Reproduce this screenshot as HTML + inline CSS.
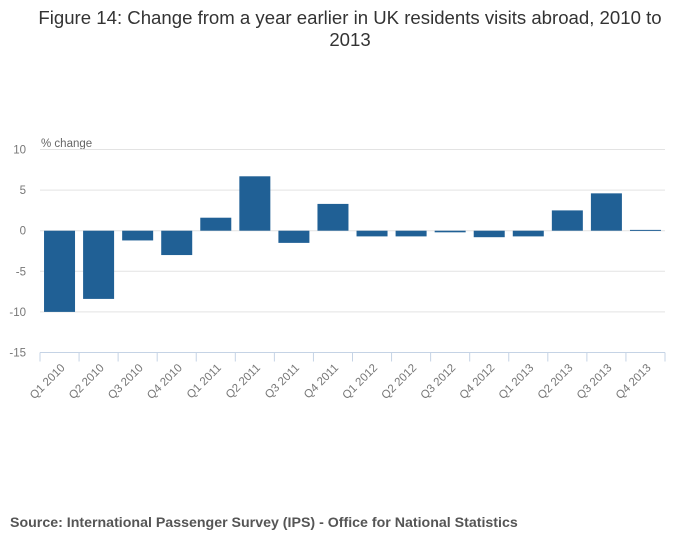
<!DOCTYPE html>
<html><head><meta charset="utf-8"><style>
body{margin:0;background:#fff;width:700px;height:549px;overflow:hidden;font-family:"Liberation Sans",sans-serif}
</style></head><body>
<svg width="700" height="549">
<text x="350" y="24" text-anchor="middle" font-size="18.6" fill="#333">Figure 14: Change from a year earlier in UK residents visits abroad, 2010 to</text>
<text x="350" y="46" text-anchor="middle" font-size="18.6" fill="#333">2013</text>
<text x="41" y="147" font-size="11.5" fill="#666">% change</text>
<g id="grid"></g><g id="bars"></g><g id="xaxis"></g>
<text x="10" y="527" font-size="14.2" font-weight="bold" fill="#555">Source: International Passenger Survey (IPS) - Office for National Statistics</text>
</svg>
<script>
const categories=["Q1 2010","Q2 2010","Q3 2010","Q4 2010","Q1 2011","Q2 2011","Q3 2011","Q4 2011","Q1 2012","Q2 2012","Q3 2012","Q4 2012","Q1 2013","Q2 2013","Q3 2013","Q4 2013"];
const values=[-10,-8.4,-1.2,-3.0,1.6,6.7,-1.5,3.3,-0.7,-0.7,-0.2,-0.8,-0.7,2.5,4.6,0.1];
const yTicks=[10,5,0,-5,-10,-15];
const NS="http://www.w3.org/2000/svg";
const x0=40,x1=665,yTop=149.5,yBot=352.5,vMax=10,vMin=-15;
const y=v=>yTop+(vMax-v)/(vMax-vMin)*(yBot-yTop);
const bw=(x1-x0)/categories.length;
const xs=i=>x0+i*bw;
function mk(t,a,p){const e=document.createElementNS(NS,t);for(const k in a)e.setAttribute(k,a[k]);p.appendChild(e);return e;}
const grid=document.getElementById('grid'),bars=document.getElementById('bars'),xa=document.getElementById('xaxis');
yTicks.forEach(v=>{
 if(v!==vMin){const l=mk('line',{x1:x0,x2:x1,y1:y(v),y2:y(v),stroke:'#e3e3e3','stroke-width':1},grid);
 
 }
 const t=mk('text',{x:26,y:y(v)+4,'text-anchor':'end','font-size':11.5,fill:'#777'},grid);t.textContent=v;
 
 
});
const ax=mk('line',{x1:x0,x2:x1,y1:yBot,y2:yBot,stroke:'#c5d3e5','stroke-width':1},xa);


for(let i=0;i<=categories.length;i++){
 const tk=mk('line',{x1:xs(i),x2:xs(i),y1:yBot,y2:yBot+9,stroke:'#c5d3e5'},xa);
 
 
}
categories.forEach((c,i)=>{
 const v=values[i],cx=xs(i)+bw/2;
 const r=mk('rect',{x:cx-15.5,width:31,y:Math.min(y(v),y(0)),height:Math.max(Math.abs(y(v)-y(0)),1),fill:'#206095'},bars);
 
 
 const t=mk('text',{x:cx+6,y:yBot+16,'text-anchor':'end','font-size':11.5,fill:'#777',transform:`rotate(-45 ${cx+6} ${yBot+16})`},xa);
 t.textContent=c;
 
 
});
</script>
</body></html>
